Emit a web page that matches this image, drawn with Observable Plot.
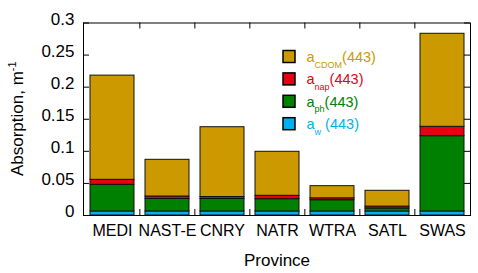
<!DOCTYPE html>
<html>
<head>
<meta charset="utf-8">
<script src="https://cdn.jsdelivr.net/npm/d3@7"></script>
<script src="https://cdn.jsdelivr.net/npm/@observablehq/plot@0.6"></script>
<style>
  html, body { margin: 0; padding: 0; background: #fff; }
  svg { display: block; }
</style>
</head>
<body>
<div id="chart"></div>
<script>
// ---- data ----
const provinces = ["MEDI", "NAST-E", "CNRY", "NATR", "WTRA", "SATL", "SWAS"];
const aW    = [0.0063, 0.0063, 0.0063, 0.0063, 0.0063, 0.0063, 0.0063];
const aPh   = [0.0415, 0.0194, 0.0194, 0.0191, 0.0175, 0.0046, 0.1173];
const aNap  = [0.0078, 0.0039, 0.0031, 0.0053, 0.0030, 0.0030, 0.0146];
const aCdom = [0.1624, 0.0572, 0.1088, 0.0686, 0.0189, 0.0246, 0.1450];
const components = ["a_w", "a_ph", "a_nap", "a_CDOM"];
const componentColors = ["#00B0F0", "#008000", "#E60012", "#CC9900"];
const legendOrder = ["a_CDOM", "a_nap", "a_ph", "a_w"];
const legendSub = {a_CDOM: "CDOM", a_nap: "nap", a_ph: "ph", a_w: "w"};
const legendRest = {a_CDOM: "(443)", a_nap: "(443)", a_ph: "(443)", a_w: " (443)"};
const yTicks = [0, 0.05, 0.1, 0.15, 0.2, 0.25, 0.3];
const xTitle = "Province";
const yTitle = "Absorption, m";
const yTitleSup = "-1";

const series = [aW, aPh, aNap, aCdom];
const rows = provinces.flatMap((p, i) =>
  components.map((c, j) => ({province: p, component: c, value: series[j][i]})));

// ---- layout ----
const W = 478, H = 273;
const mL = 83, mR = 8, mT = 22.5, mB = 58;
const frameW = W - mL - mR, frameH = H - mT - mB;
const step = frameW / provinces.length;
const tickLen = 6;
const font = "'Liberation Sans', Arial, Helvetica, sans-serif";
const fmt = d => String(+d.toFixed(2));

const chart = Plot.plot({
  width: W, height: H,
  marginLeft: mL, marginRight: mR, marginTop: mT, marginBottom: mB,
  style: {fontFamily: font, background: "#fff", color: "#000"},
  x: {domain: provinces, paddingInner: 0.2, paddingOuter: 0.1, axis: null},
  y: {domain: [0, 0.3], axis: null},
  color: {domain: components, range: componentColors},
  marks: [
    Plot.barY(rows, Plot.stackY({
      x: "province", y: "value", fill: "component", order: components,
      stroke: "#111", strokeWidth: 1
    })),
    // inward ticks: left & right
    Plot.tickY(yTicks, {y: d => d, insetRight: frameW - tickLen, stroke: "#000"}),
    Plot.tickY(yTicks, {y: d => d, insetLeft: frameW - tickLen, stroke: "#000"}),
    // inward ticks at band boundaries: bottom & top
    Plot.ruleX(provinces.slice(1), {x: d => d, dx: -step / 2, insetTop: frameH - tickLen, stroke: "#000"}),
    Plot.ruleX(provinces.slice(1), {x: d => d, dx: -step / 2, insetBottom: frameH - tickLen, stroke: "#000"}),
    Plot.frame({stroke: "#000"}),
    // tick labels
    Plot.text(yTicks, {y: d => d, text: fmt, frameAnchor: "left", textAnchor: "end",
      dx: -9, dy: -3.5, fontSize: 17, fill: "#000"}),
    Plot.text(provinces, {x: d => d, text: d => d, frameAnchor: "bottom", lineAnchor: "top",
      dy: 9.6, fontSize: 16, fill: "#000"}),
    Plot.text([xTitle], {text: d => d, frameAnchor: "bottom", lineAnchor: "top",
      dy: 38, fontSize: 17, fill: "#000"})
  ]
});

const svg = d3.select(chart);

// y title with superscript
const yt = svg.append("text")
  .attr("transform", `translate(23,${mT + frameH / 2}) rotate(-90)`)
  .attr("text-anchor", "middle")
  .attr("font-family", font)
  .attr("font-size", 17)
  .attr("fill", "#000");
yt.append("tspan").text(yTitle);
yt.append("tspan").attr("font-size", 11).attr("dy", -7).text(yTitleSup);

// legend
const colorOf = Object.fromEntries(components.map((c, i) => [c, componentColors[i]]));
const lg = svg.append("g").attr("font-family", font).attr("text-anchor", "start");
legendOrder.forEach((c, i) => {
  const y0 = 50.5 + i * 22.4;
  lg.append("rect")
    .attr("x", 283).attr("y", y0).attr("width", 12).attr("height", 12)
    .attr("fill", colorOf[c]).attr("stroke", "#000").attr("stroke-width", 1.5);
  const t = lg.append("text")
    .attr("x", 306.5).attr("y", y0 + 11.5)
    .attr("text-anchor", "start")
    .attr("font-size", 14.5)
    .attr("fill", colorOf[c]);
  t.append("tspan").text("a");
  t.append("tspan").attr("font-size", 9).attr("dy", 5.5).text(legendSub[c]);
  t.append("tspan").attr("dy", -5.5).text(legendRest[c]);
});

document.getElementById("chart").appendChild(chart);
</script>
</body>
</html>
